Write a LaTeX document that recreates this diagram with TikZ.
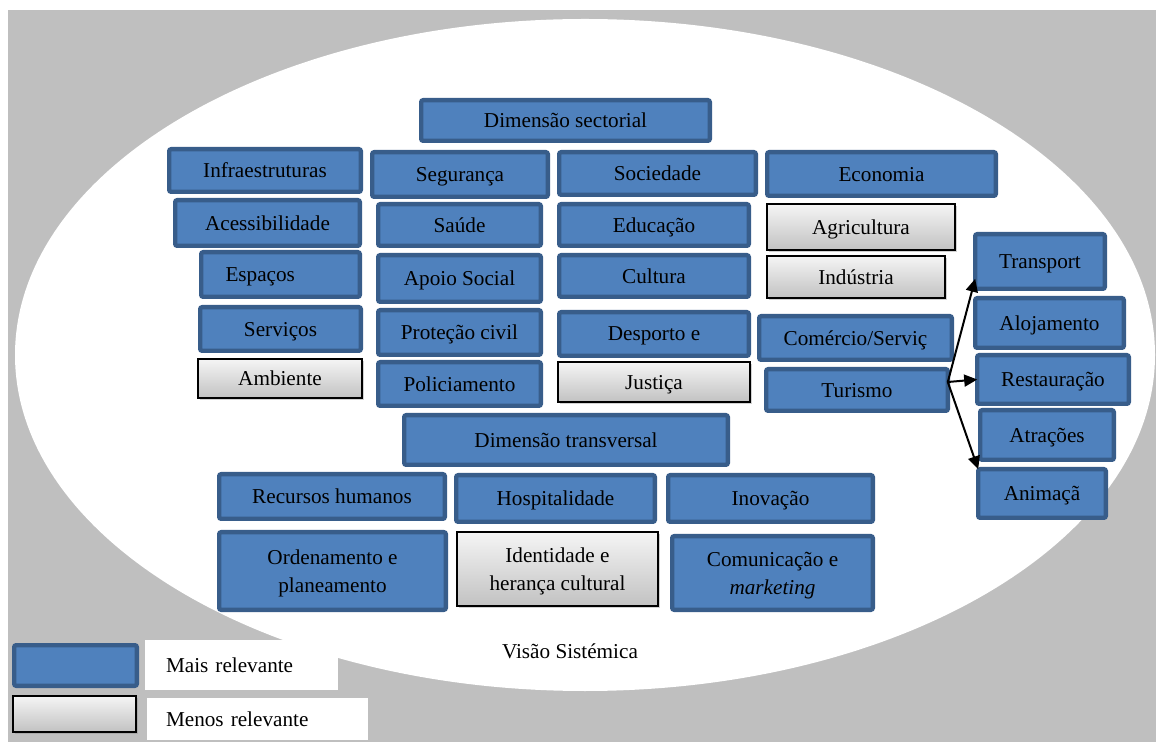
\documentclass[tikz,border=0pt]{standalone}
\usepackage{fontspec}
\setmainfont{Liberation Serif}
\usetikzlibrary{arrows.meta,shadows}
\definecolor{azul}{HTML}{4F81BD}
\definecolor{azulescuro}{HTML}{385D8A}
\definecolor{cinza}{HTML}{BFBFBF}
\begin{document}
\begin{tikzpicture}[x=0.5pt,y=-0.5pt,
  font=\fontsize{10.6}{14}\selectfont,
  mais/.style={draw=azulescuro, line width=2.2pt, fill=azul, rounded corners=1pt, inner sep=0pt, outer sep=0pt, align=center, text depth=0pt},
  menos/.style={draw=black, line width=1pt, top color=black!4, bottom color=black!24, drop shadow={shadow xshift=0.8pt, shadow yshift=-1.2pt, opacity=.35}, inner sep=0pt, outer sep=0pt, align=center, text depth=0pt},
  seta/.style={line width=1pt, -{Triangle[length=6.5pt,width=6pt]}}]
\useasboundingbox (0,0) rectangle (1156,742);
\fill[white] (0,0) rectangle (1156,742);
\fill[cinza] (8,10) rectangle (1156,742);
\fill[white] (585,355) ellipse [x radius=285pt, y radius=168pt];

% dimensao sectorial
\node[mais, minimum width=144.3pt, minimum height=20.3pt] (sect) at (565.5,120.5) {Dimensão sectorial};

\node[mais, minimum width=95.8pt, minimum height=21.3pt] (infra) at (265,170.5) {Infraestruturas};
\node[mais, minimum width=92.3pt, minimum height=22.8pt] (acess) at (267.5,223) {Acessibilidade};
\node[mais, minimum width=79.3pt, minimum height=22.3pt, text width=55pt, align=left] (esp) at (280.5,274.5) {Espaços};
\node[mais, minimum width=80.3pt, minimum height=21.8pt] (serv) at (280.5,329) {Serviços};
\node[menos, minimum width=82pt, minimum height=19.5pt] (amb) at (280,378.5) {Ambiente};

\node[mais, minimum width=87.8pt, minimum height=22.3pt] (seg) at (460,174.5) {Segurança};
\node[mais, minimum width=81.3pt, minimum height=20.8pt] (saude) at (459.5,225) {Saúde};
\node[mais, minimum width=81.3pt, minimum height=23.3pt] (apoio) at (459.5,278.5) {Apoio Social};
\node[mais, minimum width=81.3pt, minimum height=22.3pt] (prot) at (459.5,332.5) {Proteção civil};
\node[mais, minimum width=81.3pt, minimum height=21.8pt] (pol) at (459.5,384) {Policiamento};

\node[mais, minimum width=98.3pt, minimum height=21.3pt] (soc) at (657.5,173.5) {Sociedade};
\node[mais, minimum width=94.8pt, minimum height=20.8pt] (edu) at (654,225) {Educação};
\node[mais, minimum width=94.8pt, minimum height=20.8pt] (cult) at (654,276) {Cultura};
\node[mais, minimum width=94.8pt, minimum height=21.8pt] (desp) at (654,334) {Desporto e};
\node[menos, minimum width=96pt, minimum height=20pt] (just) at (654,382) {Justiça};

\node[mais, minimum width=114.3pt, minimum height=21.8pt] (eco) at (881.5,174) {Economia};
\node[menos, minimum width=94pt, minimum height=23pt] (agri) at (861,227) {Agricultura};
\node[menos, minimum width=89pt, minimum height=21pt] (ind) at (856,277) {Indústria};
\node[mais, minimum width=96.3pt, minimum height=21.8pt] (com) at (855.5,338) {Comércio/Serviç};
\node[mais, minimum width=90.8pt, minimum height=20.8pt] (tur) at (857,390) {Turismo};

% turismo
\node[mais, minimum width=64.8pt, minimum height=27.3pt] (transp) at (1040,261.5) {Transport};
\node[mais, minimum width=74.3pt, minimum height=24.8pt] (aloj) at (1049.5,323) {Alojamento};
\node[mais, minimum width=75.8pt, minimum height=24.3pt] (rest) at (1053,379.5) {Restauração};
\node[mais, minimum width=66.8pt, minimum height=24.8pt] (atr) at (1047,435) {Atrações};
\node[mais, minimum width=63.8pt, minimum height=24.3pt] (anim) at (1042,493.5) {Animaçã};
\draw[seta] ([yshift=4pt]tur.east) -- ([yshift=5pt]transp.south west);
\draw[seta] ([yshift=4pt]tur.east) -- (rest.west);
\draw[seta] ([yshift=4pt]tur.east) -- (anim.north west);

% dimensao transversal
\node[mais, minimum width=161.8pt, minimum height=24.8pt] (transv) at (566,440) {Dimensão transversal};
\node[mais, minimum width=112.8pt, minimum height=22.3pt] (rec) at (332,496.5) {Recursos humanos};
\node[mais, minimum width=99.3pt, minimum height=23.3pt] (hosp) at (555.5,498.5) {Hospitalidade};
\node[mais, minimum width=102.3pt, minimum height=23.3pt] (inov) at (770.5,498.5) {Inovação};
\node[mais, minimum width=113.3pt, minimum height=38.8pt] (orden) at (332.5,571) {Ordenamento e\\planeamento};
\node[menos, minimum width=100.5pt, minimum height=37pt] (ident) at (557.5,569) {Identidade e\\herança cultural};
\node[mais, minimum width=100.3pt, minimum height=36.8pt] (comun) at (772.5,573) {Comunicação e\\\textit{marketing}};

\node (visao) at (570,651) {Visão Sistémica};

% legenda
\node[mais, minimum width=61.3pt, minimum height=20.3pt] (leg-mais) at (75.5,665.5) {};
\node[fill=white, minimum height=25pt, text width=75.5pt, inner xsep=10.5pt, inner ysep=0pt, align=left] (txt-mais) at (241.5,665) {Mais relevante};
\node[menos, minimum width=61.5pt, minimum height=18pt] (leg-menos) at (74.5,714) {};
\node[fill=white, minimum height=21pt, text width=91.5pt, inner xsep=9.5pt, inner ysep=0pt, align=left] (txt-menos) at (257.5,719) {Menos relevante};

\end{tikzpicture}
\end{document}
